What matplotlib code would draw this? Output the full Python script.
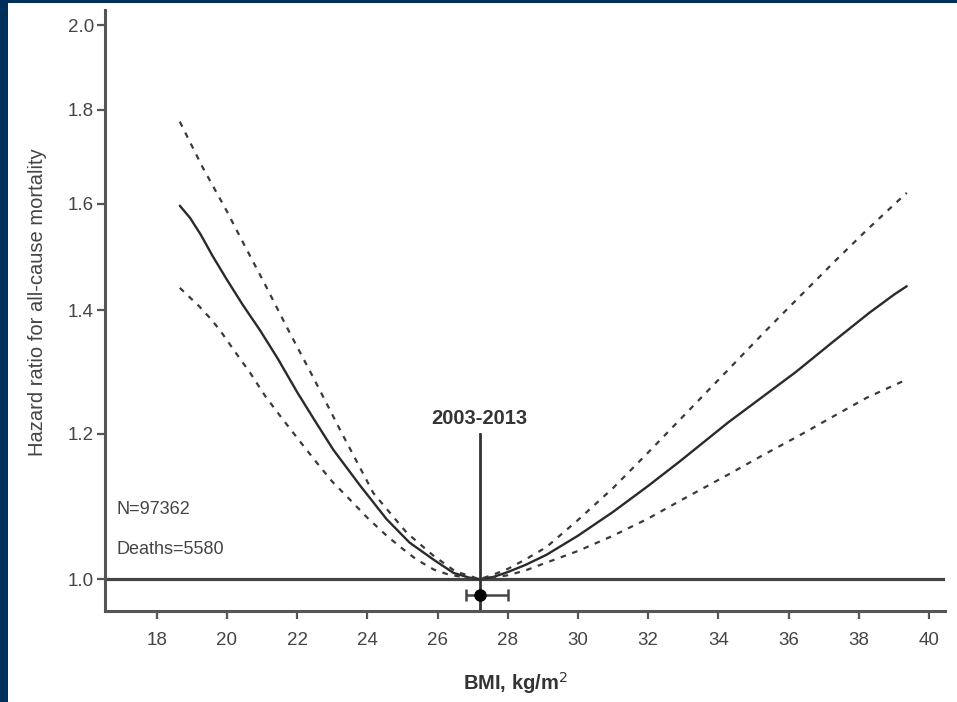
import matplotlib
matplotlib.use("Agg")
import matplotlib.pyplot as plt
import numpy as np
from matplotlib.patches import Rectangle

# ---- data ----
bmi_hr = [18.66, 18.95, 19.25, 19.6, 20.0, 20.45, 20.94, 21.45, 22.0, 22.5, 23.03,
          23.8, 24.55, 25.2, 25.88, 26.45, 26.9, 27.2,
          27.6, 28.0, 28.5, 29.1, 30.0, 31.0, 32.0, 32.9, 34.28, 35.0, 36.2,
          37.26, 38.3, 39.0, 39.36]
hr = [1.596, 1.572, 1.540, 1.498, 1.455, 1.410, 1.366, 1.318, 1.264, 1.220, 1.176,
      1.124, 1.078, 1.047, 1.025, 1.008, 1.002, 1.000,
      1.003, 1.009, 1.018, 1.031, 1.056, 1.088, 1.124, 1.159, 1.217, 1.246, 1.296,
      1.346, 1.396, 1.428, 1.443]

bmi_upper = [18.66, 19.3, 20.0, 20.5, 21.0, 21.75, 22.5, 23.22, 24.17, 25.12, 25.88,
             26.5, 27.2, 27.6, 28.0, 28.5, 29.1, 30.0, 31.0, 32.0, 32.9, 34.28, 35.3,
             36.32, 37.3, 38.22, 39.36]
hr_upper = [1.773, 1.676, 1.585, 1.519, 1.457, 1.366, 1.283, 1.206, 1.114, 1.060, 1.030,
            1.010, 1.000, 1.006, 1.013, 1.025, 1.041, 1.077, 1.121, 1.172, 1.221, 1.300,
            1.362, 1.425, 1.488, 1.548, 1.622]

bmi_lower = [18.66, 19.2, 19.5, 19.80, 20.2, 20.66, 21.1, 21.60, 22.1, 22.56, 23.0, 23.50,
             24.0, 24.55, 25.0, 25.40, 25.9, 26.3, 26.8, 27.2,
             27.6, 28.0, 28.5, 29.1, 30.0, 31.0, 32.0, 32.9, 34.28, 35.3, 36.3,
             37.3, 38.22, 39.36]
hr_lower = [1.440, 1.408, 1.388, 1.366, 1.332, 1.295, 1.257, 1.221, 1.187, 1.157, 1.130, 1.105,
            1.080, 1.056, 1.039, 1.025, 1.012, 1.006, 1.002, 1.000,
            1.002, 1.005, 1.011, 1.021, 1.036, 1.056, 1.079, 1.103, 1.140, 1.169, 1.197,
            1.227, 1.255, 1.284]

nadir_bmi = 27.2
nadir_lo = 26.8
nadir_hi = 28.0
nadir_y = 0.981
period_label = "2003-2013"
n_text = "N=97362"
deaths_text = "Deaths=5580"

x_ticks = list(range(18, 41, 2))
y_ticks = [1.0, 1.2, 1.4, 1.6, 1.8, 2.0]
y_tick_labels = ["1.0", "1.2", "1.4", "1.6", "1.8", "2.0"]

# ---- figure ----
W, H = 957, 702
fig = plt.figure(figsize=(W / 100, H / 100), dpi=100)
navy = "#00305a"
fig.patch.set_facecolor(navy)
fig.patches.append(Rectangle((8 / W, 0), 1 - 8 / W, 1 - 3 / H, transform=fig.transFigure,
                             facecolor="white", edgecolor="none", zorder=-10))

fam = ["Liberation Sans Narrow", "Liberation Sans", "DejaVu Sans"]
plt.rcParams["font.family"] = fam

ax = fig.add_axes([105 / W, 1 - 611 / H, (945 - 105) / W, (611 - 10) / H])
ax.set_facecolor("none")
ax.set_yscale("log")
ax.set_xlim(16.53, 40.45)
ax.set_ylim(0.961, 2.039)

ax.plot(bmi_hr, hr, color="#2a2a2a", lw=1.7, solid_capstyle="round", solid_joinstyle="round")
ax.plot(bmi_upper, hr_upper, color="#3a3a3a", lw=1.6, ls=(0, (2.5, 3)))
ax.plot(bmi_lower, hr_lower, color="#3a3a3a", lw=1.6, ls=(0, (2.5, 3)))

ax.axhline(1.0, color="#444444", lw=2.3, zorder=1)
ax.plot([nadir_bmi, nadir_bmi], [0.961, 1.2], color="#333333", lw=2.0)
ax.errorbar([nadir_bmi], [nadir_y], xerr=[[nadir_bmi - nadir_lo], [nadir_hi - nadir_bmi]],
            fmt="o", color="black", ms=8, ecolor="#444444", elinewidth=1.8, capsize=4,
            capthick=1.8)

ax.text(nadir_bmi, 1.215, period_label, ha="center", va="baseline", fontsize=14.5,
        fontweight="bold", color="#333333")
ax.text(16.85, 1.091, n_text, ha="left", va="center", fontsize=13, color="#444444")
ax.text(16.85, 1.038, deaths_text, ha="left", va="center", fontsize=13, color="#444444")

for s in ["top", "right"]:
    ax.spines[s].set_visible(False)
for s in ["left", "bottom"]:
    ax.spines[s].set_color("#555555")
    ax.spines[s].set_linewidth(2.2)

ax.set_xticks(x_ticks)
ax.set_xticklabels([str(t) for t in x_ticks])
ax.set_yticks(y_ticks)
ax.set_yticklabels(y_tick_labels)
ax.yaxis.set_minor_locator(matplotlib.ticker.NullLocator())
ax.tick_params(axis="both", length=6, width=1.6, color="#555555", labelcolor="#444444",
               labelsize=13.5)
ax.tick_params(axis="x", pad=9)
ax.tick_params(axis="y", pad=2)

ax.set_xlabel("BMI, kg/m$^2$", fontsize=14.5, fontweight="bold", color="#333333")
ax.xaxis.set_label_coords((515 - 105) / 840, (611 - 670) / 601)
fig.text(38 / W, 1 - 302 / H, "Hazard ratio for all-cause mortality", rotation=90,
         ha="center", va="center", fontsize=14.5, color="#444444")

fig.savefig("out.png", dpi=100, facecolor=fig.get_facecolor())
